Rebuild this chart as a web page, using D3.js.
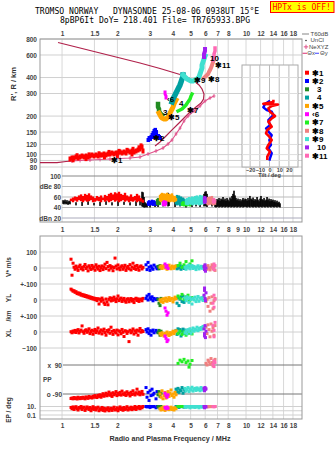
<!DOCTYPE html>
<html><head><meta charset="utf-8">
<script src="https://cdn.jsdelivr.net/npm/d3@7"></script>
<style>
body{margin:0;background:#fff}
svg{display:block}
text{font-family:"Liberation Sans",Arial,sans-serif}
.mono{font-family:"DejaVu Sans Mono",monospace;white-space:pre}
</style>
</head><body><div id="chart"></div>
<script>
// ---------------- DATA ----------------
const titleLines = ["TROMSO NORWAY   DYNASONDE 25-08-06 0938UT 15°E", "8pBP6It DoY= 218.401 File= TR765933.BPG"];
const warningText = "HPTx is OFF!";
const freqTicksTop = [1,1.5,2,3,4,5,6,7,8,10,12,14,16,18];
const freqTicksMid = [1,1.5,2,3,4,5,6,7,8,9,10,12,14,16,18];
const gridFreqs = [1,1.5,2,3,4,5,6,7,8,10,12,14,16,18];
const heightTicks = [80,90,100,120,150,200,300,400,600,800];
const dbTicks = [100,80,60,40,20];
const dbTickLabels = ["100","dBe 80","60","40","dBn 20"];
const tiltTicks = [-20,-10,0,10,20];
const insetHeightTicks = [90,100,120,150,200,300,400];
const modeLabels = ["✱1","✱2","3","4","✱5","‹6","✱7","✱8","✱9","10","✱11"];
const modeColors = ["#ff0000","#0000ff","#228b22","#00a0a0","#ffa500","#ff00ff","#22ee22","#f08080","#40e0d0","#a020f0","#ff69b4"];
const topLegend = ["T60dB","UnCl","NeXYZ"];

// main ionogram traces [MHz, km]
const trace1 = [[1.105,92.4],[1.133,94.1],[1.148,91],[1.162,94.1],[1.191,95.8],[1.207,98],[1.222,94.1],[1.253,95.8],[1.285,97.5],[1.317,95.8],[1.35,93],[1.351,97.5],[1.385,95.8],[1.402,99.5],[1.419,97.5],[1.455,99.3],[1.492,97.5],[1.530,99.3],[1.569,97.5],[1.589,101.5],[1.609,99.3],[1.649,99.3],[1.691,101.1],[1.70,96],[1.734,99.3],[1.778,101.1],[1.800,104],[1.823,101.1],[1.869,102.9],[1.917,101.1],[1.965,102.9],[2.0,98.5],[2.015,102.9],[2.040,106],[2.066,104.8],[2.119,102.9],[2.172,104.8],[2.227,102.9],[2.255,108],[2.284,106.7],[2.342,104.8],[2.40,101],[2.401,106.7],[2.431,110],[2.462,104.8],[2.524,106.7],[2.588,108.6],[2.620,113],[2.654,110.6],[2.687,117],[2.721,114.6],[2.755,106.7]];
const trace2 = [[2.934,130],[2.971,134.8],[3.008,132.5],[3.046,137.2],[3.084,142.3],[3.123,147.4],[3.162,152.9],[3.202,156],[3.242,150],[3.242,142.3],[3.283,137.2],[3.324,139.8],[3.366,137.2],[3.409,134.8],[3.123,137.2],[3.202,142.3]];
const trace3 = [[3.324,248.5],[3.324,235.5],[3.366,227],[3.366,219],[3.409,211],[3.452,207.6],[3.495,204]];
const trace4 = [[3.961,258],[4.011,271.9],[4.061,281.9],[4.113,292],[4.164,303],[4.217,313.9],[4.27,325.4],[4.324,337.4],[4.378,350],[4.433,369],[4.489,389.6],[4.546,403.6],[4.546,419]];
const trace5 = [[3.366,211],[3.409,204],[3.452,196.6],[3.495,193],[3.583,189.7],[3.674,189.7],[3.768,196.6],[3.815,204],[3.863,211],[3.912,219],[3.961,227],[4.011,235.5],[4.061,248.5],[4.113,258],[4.164,267]];
const trace6 = [[3.629,308],[3.629,297],[3.674,287],[3.674,277]];
const trace7 = [[4.27,219],[4.378,223],[4.489,227],[4.603,235.5],[4.719,244],[4.839,258],[4.962,271.9],[5.024,287],[5.087,297]];
const trace8 = [[5.911,397],[6.061,411],[6.215,426],[6.293,442],[6.372,458],[6.453,475],[6.534,501],[6.616,529]];
const trace9 = [[4.546,419],[4.661,403.6],[4.779,389.6],[4.9,383],[5.024,375.8],[5.152,375.8],[5.283,383],[5.416,389.6],[5.553,403.6],[5.623,426],[5.694,449.8],[5.765,475],[5.765,501],[5.838,529],[5.911,558.5],[5.987,589]];
const trace10 = [[5.911,578.7],[5.911,610.7],[5.987,644.6],[5.987,668.3]];
const trace11 = [[6.616,548],[6.699,578.7],[6.699,610.7],[6.785,644.6],[6.785,680.4]];
const traceLabelPos = [[1.846,89.9],[3.123,133.6],[3.539,215],[4.324,253],[3.768,194.8],[3.721,271.9],[4.779,221],[6.215,389.6],[5.216,383],[6.372,568],[6.785,496.7]];

// model curves
const modelLow = [[0.759,86.7],[0.939,86.7],[1.051,88.3],[1.133,89.1]];
const modelUpper = [[0.951,751],[1.253,680],[1.609,622],[2.066,568],[2.654,519.5],[3.409,470.6],[3.863,445.8],[4.378,422.3],[4.839,400.2],[5.216,375.8],[5.553,350],[5.765,325.4],[5.911,297.4],[5.875,271.9],[5.694,253],[5.348,235.4],[4.962,215],[4.603,193],[4.27,173.4],[3.961,156],[3.674,139.8],[3.409,125.4],[3.202,116.7]];
const neXYZ = [[1.133,89.1],[1.253,89.9],[1.419,90.7],[1.609,91.6],[1.823,92.4],[2.066,93.2],[2.342,94.1],[2.654,95.8],[2.934,101.1],[3.242,106.7],[3.539,112.6],[3.768,121],[3.961,130],[4.164,144.9],[4.378,161],[4.603,183],[4.839,200],[5.216,219],[5.623,239.8],[5.987,262],[6.372,277],[6.699,287]];

// tilt inset [deg, km]
const tiltX = [[4,268],[4,257],[-6.4,249],[0,248],[8.8,246],[2.3,239.8],[-1.2,230],[0.5,216.3],[5.7,200],[2.3,192],[-1.2,180.7],[2.3,165],[-2.3,156],[-3.6,146.7],[-0.2,138],[2.3,130],[-1.2,119],[-2.9,112],[0.5,105.4],[-2.3,96.3],[-2.3,90.7]];
const tiltY = [[0.5,264],[-4.6,248.5],[-6.4,234],[-2.9,223],[2.3,216.3],[3.9,204],[-1.2,186],[0.5,170],[-3.6,160.4],[-1.2,151],[2.3,142],[-0.2,130],[1.5,119],[-1.2,112],[2.3,102.4],[0.5,93.5],[-0.2,89.6]];

// amplitude [MHz, dB low, dB high]
const ampT60 = [[1.013,47,54],[1.025,46,52],[1.038,48,55],[1.051,46,51],[1.064,47,54],[1.078,45,50],[1.091,47,53],[1.105,46,52],[1.191,44,50],[1.285,43,51],[1.385,45,52],[1.492,44,49],[1.609,43,51],[1.734,45,52],[1.869,44,50],[2.015,43,52],[2.172,45,51],[2.342,44,50],[2.524,43,52],[2.654,44,56],[2.721,42,70],[2.755,41,69],[2.790,40,60],[2.826,40,50],[2.861,41,48],[2.897,40,47],[3.008,40,45],[3.202,41,46],[3.324,41,50],[3.539,42,58],[3.768,42,68],[3.815,43,66],[4.113,41,55],[4.378,42,60],[4.719,40,52],[5.087,41,50],[5.348,42,62],[5.623,41,56],[5.911,42,66],[5.987,43,70],[6.061,42,71],[6.138,41,66],[6.534,42,58],[6.785,41,55],[6.869,40,52],[6.956,41,56],[7.043,42,54],[7.132,40,58],[7.222,41,53],[7.313,42,57],[7.405,40,55],[7.499,41,60],[7.592,42,54],[7.690,40,57],[7.785,41,53],[7.883,42,58],[7.982,40,55],[8.083,41,52],[8.184,42,59],[8.288,40,56],[8.392,41,62],[8.497,42,66],[8.604,40,72],[8.713,41,63],[8.822,42,58],[8.933,40,54],[9.046,41,57],[9.160,42,53],[9.277,40,56],[9.394,41,52],[9.512,42,55],[9.631,40,58],[9.752,41,54],[9.876,42,57],[10.0,41,56],[10.13,40,53],[10.25,42,58],[10.38,41,54],[10.5,40,62],[10.65,42,57],[10.78,41,55],[10.92,40,59],[11.05,42,53],[11.19,41,56],[11.33,40,54],[11.48,42,60],[11.62,41,55],[11.77,40,52],[11.92,42,57],[12.06,41,62],[12.22,40,56],[12.37,42,54],[12.53,41,58],[12.69,40,53],[12.85,42,55],[13.01,41,60],[13.17,40,54],[13.34,42,57],[13.5,41,52],[13.67,40,56],[13.84,42,53],[14.02,41,55],[14.2,40,51],[14.37,42,54],[14.55,41,50],[14.74,40,53],[14.92,42,49],[15.11,41,51],[15.3,40,48]];
const amp1 = [[1.119,52,57],[1.148,50,59],[1.177,53,61],[1.207,51,60],[1.237,54,63],[1.269,52,65],[1.301,50,62],[1.334,53,66],[1.368,51,64],[1.402,52,67],[1.437,54,63],[1.474,50,61],[1.511,51,58],[1.549,53,62],[1.589,52,60],[1.629,50,63],[1.670,54,59],[1.712,51,64],[1.756,53,62],[1.800,50,66],[1.846,52,68],[1.893,54,65],[1.941,51,69],[1.990,53,67],[2.040,50,70],[2.092,52,66],[2.145,54,64],[2.199,51,68],[2.255,53,63],[2.312,50,61],[2.371,52,65],[2.431,51,60],[2.492,53,62],[2.556,50,66],[2.620,52,63],[2.687,51,58],[2.755,49,55]];
const amp2 = [[2.934,44,52],[2.971,43,54],[3.008,45,50],[3.046,44,53],[3.084,46,55],[3.123,43,51],[3.162,45,54],[3.202,44,52],[3.242,43,50],[3.283,45,48]];
const amp3 = [[3.283,45,56],[3.324,44,58],[3.366,46,55],[3.409,45,57]];
const amp4 = [[4.164,46,62],[4.217,44,64],[4.27,47,60],[4.324,45,63],[4.378,43,58],[4.433,46,61],[4.489,44,56],[4.546,45,59],[4.603,47,57],[4.661,44,55]];
const amp5 = [[3.409,52,64],[3.452,50,66],[3.495,53,68],[3.539,51,65],[3.583,54,67],[3.629,52,63],[3.674,50,66],[3.721,53,68],[3.768,51,64],[3.815,52,66],[3.863,50,62],[3.912,53,65],[3.961,51,67],[4.011,52,63],[4.061,50,60],[4.113,51,62],[4.164,52,58]];
const amp6 = [[3.539,43,52],[3.583,44,54],[3.629,42,50],[3.674,44,53]];
const amp7 = [[4.489,43,50],[4.546,44,52],[4.603,42,49],[4.661,43,51],[4.719,44,53],[4.779,42,50],[4.839,43,48],[4.9,44,51],[4.962,42,49]];
const amp8 = [[6.138,46,58],[6.215,44,60],[6.293,47,57],[6.372,45,61],[6.453,48,59],[6.534,46,62],[6.616,44,58],[6.699,47,56],[6.785,45,54]];
const amp9 = [[4.719,45,56],[4.779,47,58],[4.839,44,55],[4.9,46,60],[4.962,48,57],[5.024,45,59],[5.087,47,61],[5.152,44,58],[5.216,46,60],[5.283,48,62],[5.348,45,59],[5.416,47,63],[5.484,46,61],[5.553,44,60],[5.623,47,64],[5.694,45,62],[5.765,48,63],[5.838,46,60],[5.911,47,58]];
const amp10 = [[5.911,48,60],[5.95,47,62],[5.987,49,58],[6.02,48,61]];
const amp11 = [[6.616,48,56],[6.699,47,58],[6.785,49,55]];

// lower panel rows: [MHz, V* m/s, YL km, XL km, PP deg, EP deg]
const low1 = [[1.119,55,68,2,-118,6],[1.133,-45,62,-5,-115,3],[1.148,30,55,6,-120,8],[1.162,5,58,0,-112,2],[1.177,-8,48,10,-118,5],[1.191,12,52,-3,-114,9],[1.207,0,40,8,-121,3],[1.222,-15,45,15,-110,1.5],[1.237,8,36,-6,-116,6],[1.253,18,42,4,-119,4],
[1.269,-5,30,12,-112,10],[1.285,3,35,38,-117,2],[1.301,-12,26,2,-110,5],[1.317,10,32,-8,-115,7],[1.334,22,22,9,-120,1.2],[1.351,-3,28,14,-108,3],[1.368,6,18,-2,-113,8],[1.385,-18,24,6,-117,4],[1.402,14,14,20,-105,2],[1.419,1,20,-10,-112,6],
[1.437,-9,10,3,-109,1],[1.455,16,16,11,-115,3],[1.474,-2,6,-14,-104,9],[1.492,7,12,5,-110,2],[1.511,-14,2,16,-100,5],[1.530,20,9,-4,-108,1.5],[1.549,4,-4,8,-112,4],[1.569,-7,8,25,-98,7],[1.589,11,-25,-7,-105,1],[1.609,-16,5,2,-95,3],
[1.629,2,-8,13,-110,2],[1.649,13,12,-12,-100,6],[1.670,-10,0,6,-88,1.2],[1.691,6,-18,18,-104,4],[1.712,24,-28,-3,-96,0.9],[1.734,-4,6,-20,-85,3],[1.756,35,-12,9,-101,1.8],[1.778,9,-30,0,-92,5],[1.800,-13,4,14,-78,1],[1.823,15,14,-8,-98,2.5],
[1.846,-1,-6,30,-88,4],[1.869,8,10,4,-105,1.2],[1.893,-17,-2,-15,-82,3],[1.917,3,18,10,-95,7],[1.941,62,3,1,-90,1.5],[1.965,12,-10,-6,-75,2],[1.990,-6,8,12,-100,5],[2.015,19,25,-18,-86,1],[2.040,0,-4,7,-93,3],[2.066,-11,6,3,-80,8],
[2.092,7,12,-11,-97,2],[2.119,14,-9,16,-72,4],[2.145,-8,2,-2,-89,1.3],[2.172,4,10,-28,-94,6],[2.199,17,-6,8,-83,2],[2.227,-15,-14,5,-99,3],[2.255,2,4,-9,-76,9],[2.284,10,8,2,-91,1.5],[2.312,-5,-11,-60,-86,4],[2.342,21,1,11,-102,2.5],
[2.371,-12,9,-5,-79,7],[2.401,6,-7,4,-93,1.8],[2.431,30,3,19,-70,5],[2.462,-3,-16,-13,-88,3],[2.492,11,5,7,-96,10],[2.524,-9,11,-3,-82,2],[2.556,16,-3,12,-60,6],[2.588,1,7,-20,-90,4],[2.620,-14,-9,6,-78,12],[2.654,8,2,22,-95,3],
[2.687,13,6,-1,-84,8],[2.721,-6,-5,9,-74,5],[2.755,4,10,3,-92,14]];
const low2 = [[2.861,20,10,15,-50,15],[2.897,-10,25,0,-110,8],[2.934,35,0,20,-80,20],[2.971,5,35,-10,-130,12],[3.008,-15,15,8,-70,6],[3.046,12,5,-20,-100,10],[3.084,0,20,5,-60,18],[3.123,-8,-5,12,-95,9],[3.162,18,10,-5,-85,14],[3.242,6,2,10,-120,5],[3.283,-5,8,0,-75,11]];
const low3 = [[3.324,10,5,-5,-95,8],[3.366,-5,-20,10,-75,14],[3.409,15,-35,-20,-105,4],[3.452,0,10,5,-85,10]];
const low4 = [[4.164,8,10,10,-60,12],[4.217,-5,-20,-15,-75,8],[4.27,12,15,20,-55,15],[4.324,0,-35,-5,-80,6],[4.378,15,5,15,-65,10],[4.433,-8,20,-25,-70,14],[4.489,5,-10,5,-50,9],[4.546,10,25,18,-85,11],[4.603,-3,-15,-8,-60,7],[4.661,6,0,12,-72,13]];
const low5 = [[3.409,5,0,-10,-90,3],[3.452,12,-10,-20,-110,1.5],[3.495,-3,5,-5,-70,5],[3.539,8,-15,-15,-120,2],[3.583,15,8,-25,-100,8],[3.629,0,-5,-8,-80,1.2],[3.674,10,12,-18,-115,4],[3.721,-8,-8,0,-95,2.5],[3.768,6,3,-12,-75,6],[3.815,18,15,-22,-105,1.8],[3.863,2,-3,-4,-85,3],[3.912,-5,6,-15,-65,7],[3.961,12,10,-6,-100,2],[4.011,7,-12,5,-90,4],[4.061,-2,4,-10,-110,1.5],[4.113,9,18,2,-80,5],[4.164,14,8,8,-95,3]];
const low6 = [[3.629,25,-50,-25,-85,6],[3.674,5,-70,-40,-100,3],[3.721,15,-95,-60,-110,8],[3.768,-3,-80,-50,-95,4]];
const low7 = [[4.27,15,25,-10,100,20],[4.378,30,10,5,120,12],[4.489,5,35,-15,110,25],[4.603,20,5,0,125,15],[4.719,40,20,-20,105,10],[4.839,10,30,-5,115,18],[4.962,25,0,8,95,8],[5.087,45,15,-12,118,14],[4.9,12,-5,-8,77,11]];
const low8 = [[6.061,10,-10,30,100,10],[6.138,-8,5,-10,90,14],[6.215,15,-40,45,120,8],[6.293,0,15,15,110,12],[6.372,-12,-70,-30,95,16],[6.453,5,-20,50,130,9],[6.534,20,20,5,105,13],[6.616,-5,-55,25,85,11],[6.699,8,-5,-20,115,15],[6.785,-15,10,40,125,10]];
const low9 = [[4.661,5,12,-5,-55,10],[4.719,-8,-5,8,-70,6],[4.779,12,20,-12,-62,14],[4.839,0,8,15,-50,8],[4.9,18,-15,3,-75,12],[4.962,-5,15,20,-58,5],[5.024,8,3,-8,-65,9],[5.087,15,-25,10,-48,15],[5.152,-3,10,25,-72,7],[5.216,10,0,5,-60,11],[5.283,2,18,18,-55,6],[5.348,-10,-10,12,-68,13],[5.416,6,5,30,-52,8],[5.484,14,22,8,-63,10],[5.553,-6,-8,22,-58,5],[5.623,4,12,15,-70,12],[5.694,11,6,28,-50,9],[5.765,-2,15,18,-62,7],[5.838,8,-3,35,-66,11],[5.911,0,20,25,-55,8]];
const low10 = [[5.911,8,30,20,-55,12],[5.95,-10,60,-25,-65,6],[5.987,20,10,40,-50,9],[6.02,-20,-5,-35,-60,15],[6.061,0,45,5,-58,8],[5.95,12,75,-10,-70,5]];
const low11 = [[6.616,5,-20,40,95,12],[6.699,-10,30,-30,115,8],[6.785,15,5,60,105,15],[6.699,25,-45,10,80,10]];

// ---------------- SCALES ----------------
const W = 335, H = 451;
const x = d3.scaleLog().domain([0.759, 20.15]).range([40, 302]);
const yH = d3.scaleLog().domain([80, 800]).range([167, 39]);
const yDb = d3.scaleLinear().domain([20, 100]).range([218, 176]);
const yV = d3.scaleLinear().domain([-100, 100]).range([284, 252]);
const yYL = d3.scaleLinear().domain([-100, 100]).range([316, 284]);
const yXL = d3.scaleLinear().domain([-100, 100]).range([348, 316]);
const yPP = d3.scaleLinear().domain([-90, 90]).range([394, 365]);
const yEP = d3.scaleLog().domain([0.1, 10]).range([415, 406.5]).clamp(true);
const xTilt = d3.scaleLinear().domain([-28.4, 29.4]).range([242, 298]);

const svg = d3.select("#chart").append("svg").attr("width", W).attr("height", H);
svg.append("rect").attr("width", W).attr("height", H).attr("fill", "#fff");

const [X0, X1] = x.range();
const mainTop = yH.range()[1], mainBottom = 222;
const lowTop = 236, lowBottom = 419;

// ---------------- TITLE ----------------
svg.append("text").attr("class","mono").attr("x",35).attr("y",14).attr("font-size",8.1).attr("fill","#000").text(titleLines[0]);
svg.append("text").attr("class","mono").attr("x",60).attr("y",23).attr("font-size",8.1).attr("fill","#000").text(titleLines[1]);
svg.append("rect").attr("x",270.5).attr("y",1.5).attr("width",63.5).attr("height",11).attr("fill","#ffff00").attr("stroke","#ff0000");
svg.append("text").attr("class","mono").attr("x",272.5).attr("y",10.3).attr("font-size",8.1).attr("fill","#ff0000").text(warningText);

// ---------------- GRIDS ----------------
const grid = svg.append("g");
grid.selectAll(".vg").data(gridFreqs).join("line")
  .attr("x1", d=>x(d)).attr("x2", d=>x(d)).attr("y1", mainTop).attr("y2", mainBottom)
  .attr("stroke", "#d8d8d8").attr("stroke-width", 1);
grid.selectAll(".vg2").data(gridFreqs).join("line")
  .attr("x1", d=>x(d)).attr("x2", d=>x(d)).attr("y1", lowTop).attr("y2", lowBottom)
  .attr("stroke", "#d8d8d8").attr("stroke-width", 1);
grid.selectAll(".hg").data(heightTicks).join("line")
  .attr("x1", X0).attr("x2", X1).attr("y1", d=>yH(d)).attr("y2", d=>yH(d))
  .attr("stroke", "#d0d0d0");
grid.selectAll(".db").data(dbTicks).join("line")
  .attr("x1", x(1)).attr("x2", X1).attr("y1", d=>yDb(d)).attr("y2", d=>yDb(d))
  .attr("stroke", (d,i)=> i===0 ? "#888" : (d===20 ? "#aab" : "#bbb"));
const lowLines = [yV(100), yV(0), yV(-100), yYL(0), yYL(-100), yXL(0), yXL(-100), yEP(10), yEP(1), yEP(0.1)];
grid.selectAll(".lh").data(lowLines).join("line")
  .attr("x1", X0).attr("x2", X1).attr("y1", d=>d).attr("y2", d=>d).attr("stroke", "#d0d0d0");
grid.selectAll(".pp").data([90,-90]).join("line")
  .attr("x1", 63).attr("x2", X1).attr("y1", d=>yPP(d)).attr("y2", d=>yPP(d)).attr("stroke", "#777");

svg.append("rect").attr("x",X0).attr("y",mainTop).attr("width",X1-X0).attr("height",mainBottom-mainTop).attr("fill","none").attr("stroke","#999");
svg.append("rect").attr("x",X0).attr("y",lowTop).attr("width",X1-X0).attr("height",lowBottom-lowTop).attr("fill","none").attr("stroke","#999");

// ---------------- AXES ----------------
function styleAxis(g, size) {
  g.select(".domain").remove();
  g.selectAll("line").remove();
  g.selectAll("text").attr("font-size", size).attr("font-family", '"Liberation Sans",Arial,sans-serif')
    .attr("font-weight","bold").attr("fill", "#444");
}
const fmt = d3.format("");
svg.append("g").attr("transform","translate(0,36)")
  .call(d3.axisTop(x).tickValues(freqTicksTop).tickFormat(fmt).tickSize(0).tickPadding(0)).call(g=>styleAxis(g,6.5));
svg.append("g").attr("transform","translate(0,227.6)")
  .call(d3.axisBottom(x).tickValues(freqTicksMid).tickFormat(fmt).tickSize(0).tickPadding(0)).call(g=>styleAxis(g,6.5));
svg.append("g").attr("transform","translate(0,423.4)")
  .call(d3.axisBottom(x).tickValues(freqTicksTop).tickFormat(fmt).tickSize(0).tickPadding(0)).call(g=>styleAxis(g,6.5));
svg.append("g").attr("transform","translate(37,0)")
  .call(d3.axisLeft(yH).tickValues(heightTicks).tickFormat(fmt).tickSize(0).tickPadding(0)).call(g=>styleAxis(g,6.5));
svg.append("g").attr("transform","translate(61,0)")
  .call(d3.axisLeft(yDb).tickValues(dbTicks).tickFormat((d,i)=>dbTickLabels[i]).tickSize(0).tickPadding(0)).call(g=>styleAxis(g,6.5));
svg.append("g").attr("transform","translate(37,0)")
  .call(d3.axisLeft(yV).tickValues([100,0,-100]).tickFormat(d=> d===-100 ? "+-100" : fmt(d)).tickSize(0).tickPadding(0)).call(g=>styleAxis(g,6.5));
svg.append("g").attr("transform","translate(37,0)")
  .call(d3.axisLeft(yYL).tickValues([0,-100]).tickFormat(d=> d===-100 ? "+-100" : fmt(d)).tickSize(0).tickPadding(0)).call(g=>styleAxis(g,6.5));
svg.append("g").attr("transform","translate(37,0)")
  .call(d3.axisLeft(yXL).tickValues([0,-100]).tickFormat(fmt).tickSize(0).tickPadding(0)).call(g=>styleAxis(g,6.5));
svg.append("g").attr("transform","translate(62,0)")
  .call(d3.axisLeft(yPP).tickValues([90,-90]).tickFormat(d=> d>0 ? "x  90" : "o -90").tickSize(0).tickPadding(0)).call(g=>styleAxis(g,6.5))
  .selectAll("text").style("white-space","pre");
svg.append("g").attr("transform","translate(36,0)")
  .call(d3.axisLeft(yEP).tickValues([10,0.1]).tickFormat(d=> d===10 ? "10." : "0.1").tickSize(0).tickPadding(0)).call(g=>styleAxis(g,6.5));
svg.append("text").attr("x",43).attr("y",yPP(0)+2.3).attr("font-size",6.5).attr("font-weight","bold").attr("fill","#444").text("PP");

function vtitle(t, cx, cy, size) {
  svg.append("text").attr("transform",`translate(${cx},${cy}) rotate(-90)`).attr("text-anchor","middle")
    .attr("font-size",size).attr("font-weight","bold").attr("fill","#333").text(t);
}
vtitle("R', R / km", 16, 84, 7.5);
vtitle("V* m/s", 10.5, 267, 6.5);
vtitle("YL", 10.5, 298, 6.5);
vtitle("/km", 10.5, 316, 6.5);
vtitle("XL", 10.5, 333, 6.5);
vtitle("EP / deg", 11, 410, 6.5);
svg.append("text").attr("x",170).attr("y",441).attr("text-anchor","middle").attr("font-size",7.2)
  .attr("font-weight","bold").attr("fill","#333").text("Radio and Plasma Frequency / MHz");

// ---------------- AMPLITUDES ----------------
const ampG = svg.append("g");
function ampBars(data, color, w) {
  ampG.append("g").selectAll("rect").data(data).join("rect")
    .attr("x", d=>x(d[0]) - w/2).attr("width", w)
    .attr("y", d=>yDb(d[2])).attr("height", d=>yDb(d[1]) - yDb(d[2]))
    .attr("fill", color);
}
ampBars(ampT60, "#000", 1.6);
const ampModes = [amp1, amp2, amp3, amp4, amp5, amp6, amp7, amp8, amp9, amp10, amp11];
ampModes.forEach((a,i)=> ampBars(a, modeColors[i], 2.4));

// ---------------- MODEL CURVES ----------------
const lineH = d3.line().x(d=>x(d[0])).y(d=>yH(d[1]));
svg.append("path").attr("d", lineH(modelLow)).attr("fill","none").attr("stroke","#b0204a").attr("stroke-width",1.2);
svg.append("path").attr("d", lineH(modelUpper)).attr("fill","none").attr("stroke","#b0204a").attr("stroke-width",1.2);
svg.append("path").attr("d", lineH(neXYZ)).attr("fill","none").attr("stroke","#e0508a").attr("stroke-width",1.1);
svg.append("g").selectAll("path").data(neXYZ).join("path")
  .attr("d", d=>`M${x(d[0])},${yH(d[1])-2}v4M${x(d[0])-1.5},${yH(d[1])}h3`)
  .attr("stroke","#e0508a").attr("stroke-width",0.9);

// ---------------- TRACES ----------------
const trG = svg.append("g");
trG.selectAll(".t1").data(trace1).join("rect")
  .attr("x", d=>x(d[0])-1.5).attr("y", d=>yH(d[1])-2.5).attr("width",3).attr("height",5).attr("fill", modeColors[0]);
trG.selectAll(".t2").data(trace2).join("rect")
  .attr("x", d=>x(d[0])-1.5).attr("y", d=>yH(d[1])-2).attr("width",3.5).attr("height",4).attr("fill", modeColors[1]);
const lineTraces = [[trace3,2,4.5],[trace5,4,5],[trace4,3,5.5],[trace9,8,5],[trace6,5,3],[trace7,6,3.5],[trace8,7,4],[trace10,9,4],[trace11,10,3.5]];
lineTraces.forEach(([data, mi, w])=>{
  trG.append("path").attr("d", lineH(data)).attr("fill","none").attr("stroke", modeColors[mi])
    .attr("stroke-width", w).attr("stroke-linejoin","round").attr("stroke-linecap","square");
});
trG.selectAll(".tl").data(traceLabelPos).join("text")
  .attr("x", d=>x(d[0])).attr("y", d=>yH(d[1])).attr("dy","0.35em")
  .attr("font-size",8).attr("font-weight","bold").attr("fill","#000")
  .text((d,i)=>modeLabels[i]);

// ---------------- TILT INSET ----------------
const inset = svg.append("g");
const iy0 = 65, iy1 = 167;
inset.append("rect").attr("x",xTilt.range()[0]).attr("y",iy0).attr("width",xTilt.range()[1]-xTilt.range()[0]).attr("height",iy1-iy0)
  .attr("fill","#fff").attr("stroke","#aaa");
inset.selectAll(".it").data(tiltTicks).join("line")
  .attr("x1", d=>xTilt(d)).attr("x2", d=>xTilt(d)).attr("y1", iy0).attr("y2", iy1).attr("stroke","#bbb");
inset.selectAll(".ih").data(insetHeightTicks).join("line")
  .attr("x1", xTilt.range()[0]).attr("x2", xTilt.range()[1]).attr("y1", d=>yH(d)).attr("y2", d=>yH(d)).attr("stroke","#ddd");
const lineT = d3.line().x(d=>xTilt(d[0])).y(d=>yH(d[1]));
inset.append("path").attr("d", lineT(tiltY)).attr("fill","none").attr("stroke","#0000ff").attr("stroke-width",2.4).attr("stroke-linejoin","round");
inset.append("path").attr("d", lineT(tiltX)).attr("fill","none").attr("stroke","#ff0000").attr("stroke-width",2.6).attr("stroke-linejoin","round");
inset.append("g").attr("transform","translate(0,168)")
  .call(d3.axisBottom(xTilt).tickValues(tiltTicks).tickFormat(fmt).tickSize(0).tickPadding(0)).call(g=>styleAxis(g,5.5));
inset.append("text").attr("x",xTilt(0)).attr("y",177).attr("text-anchor","middle").attr("font-size",5.5)
  .attr("font-weight","bold").attr("fill","#444").text("Tilt / deg");

// ---------------- LOWER PANEL POINTS ----------------
const lowModes = [low1, low2, low3, low4, low5, low6, low7, low8, low9, low10, low11];
const rowScales = [yV, yYL, yXL, yPP, yEP];
const lowG = svg.append("g");
lowModes.forEach((rows, mi)=>{
  rowScales.forEach((sc, ri)=>{
    lowG.append("g").selectAll("rect").data(rows).join("rect")
      .attr("x", d=>x(d[0])-1.5).attr("y", d=>sc(d[ri+1])-1.5).attr("width",3).attr("height",3)
      .attr("fill", modeColors[mi]);
  });
});

// ---------------- LEGEND ----------------
const lg = svg.append("g");
const legendRow = d3.scaleLinear().domain([0,10]).range([72.7,155.7]);
const topRow = d3.scaleLinear().domain([0,3]).range([34,53.3]);
lg.append("line").attr("x1",302).attr("x2",309).attr("y1",topRow(0)).attr("y2",topRow(0)).attr("stroke","#999").attr("stroke-width",1.2);
lg.append("circle").attr("cx",306).attr("cy",topRow(1)).attr("r",0.7).attr("fill","#000");
lg.append("path").attr("d",`M306,${topRow(2)-2.2}v4.4M303.8,${topRow(2)}h4.4`).attr("stroke","#e0508a").attr("stroke-width",1);
topLegend.forEach((t,i)=>{
  lg.append("text").attr("x", i===2 ? 309 : 310.5).attr("y",topRow(i)).attr("dy","0.33em").attr("font-size",6)
    .attr("fill","#444").text(t);
});
lg.append("line").attr("x1",302.5).attr("x2",307).attr("y1",topRow(3)).attr("y2",topRow(3)).attr("stroke","#e0508a").attr("stroke-width",1.2);
lg.append("text").attr("x",307.3).attr("y",topRow(3)).attr("dy","0.33em").attr("font-size",6).attr("fill","#444").text("Θx");
lg.append("line").attr("x1",315).attr("x2",319).attr("y1",topRow(3)).attr("y2",topRow(3)).attr("stroke","#6060ff").attr("stroke-width",1.2);
lg.append("text").attr("x",320).attr("y",topRow(3)).attr("dy","0.33em").attr("font-size",6).attr("fill","#444").text("Θy");
modeLabels.forEach((lab,i)=>{
  lg.append("rect").attr("x",305).attr("y",legendRow(i)-2).attr("width",4).attr("height",4).attr("fill",modeColors[i]);
  lg.append("text").attr("x", /^\d/.test(lab) ? 317 : 312).attr("y",legendRow(i)).attr("dy","0.35em")
    .attr("font-size",8).attr("font-weight","bold").attr("fill","#000").text(lab);
});
</script></body></html>
